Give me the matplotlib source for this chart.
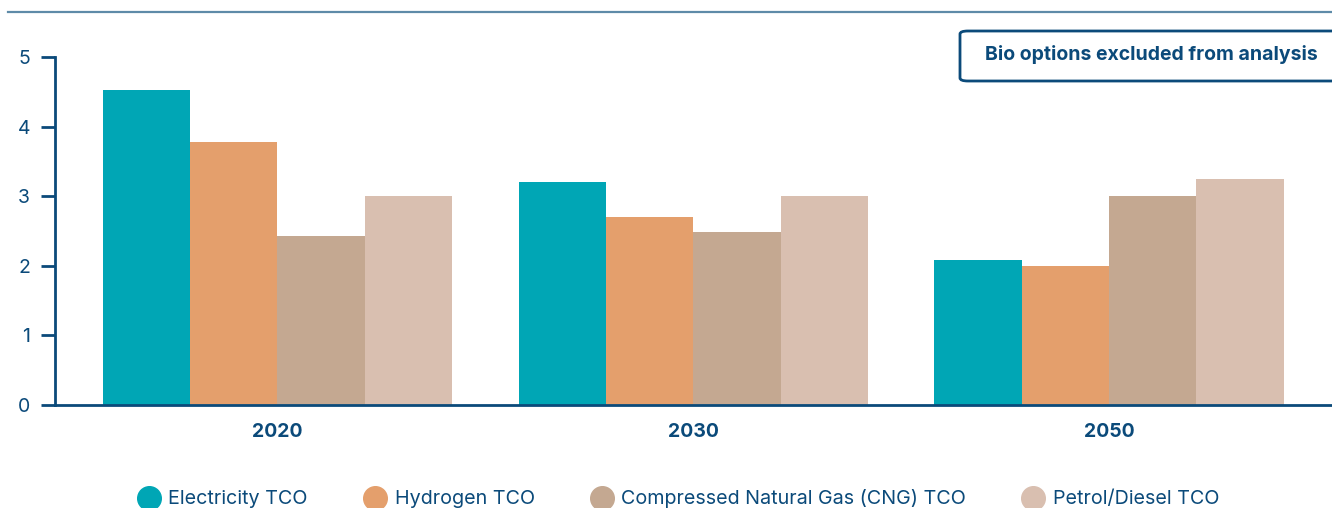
import matplotlib.pyplot as plt
import numpy as np
from matplotlib.patches import FancyBboxPatch
from matplotlib.lines import Line2D

plt.rcParams['font.family'] = ['Inter', 'DejaVu Sans']

# data
years = ['2020', '2030', '2050']
series = ['Electricity TCO', 'Hydrogen TCO', 'Compressed Natural Gas (CNG) TCO', 'Petrol/Diesel TCO']
electricity = [4.53, 3.21, 2.09]
hydrogen = [3.78, 2.70, 1.99]
cng = [2.43, 2.49, 3.00]
petrol = [3.01, 3.01, 3.25]
yticks = [0, 1, 2, 3, 4, 5]

colors = ['#00a6b5', '#e49f6c', '#c4a891', '#d9bfb0']
navy = '#0b4a7a'

fig = plt.figure(figsize=(13.32, 5.08), dpi=100)
ax = fig.add_axes([55/1332, 1-405/508, 1-55/1332, (405-57)/508])

x = np.arange(len(years))
w = 0.21
for i, vals in enumerate([electricity, hydrogen, cng, petrol]):
    ax.bar(x + (i - 1.5) * w, vals, w, color=colors[i], zorder=2)

ax.set_xlim(-0.535, 2.536)
ax.set_ylim(0, 5)
ax.set_yticks(yticks)
ax.set_xticks(x)
ax.set_xticklabels(years, fontweight='bold', fontsize=14, color=navy)
for lab in ax.get_yticklabels():
    lab.set_fontsize(14)
    lab.set_color(navy)
ax.tick_params(axis='x', length=0, pad=13)
ax.tick_params(axis='y', length=10, width=2, color=navy, pad=8)
for s in ['top', 'right']:
    ax.spines[s].set_visible(False)
for s in ['left', 'bottom']:
    ax.spines[s].set_color(navy)
    ax.spines[s].set_linewidth(2)

# top rule
fig.add_artist(Line2D([8/1332, 1], [1-12/508, 1-12/508], color='#5e8ba8', lw=1.6))

# note box
box = FancyBboxPatch((960/1332, 1-81/508), 400/1332, 50/508,
                     boxstyle='round,pad=0,rounding_size=0.006',
                     transform=fig.transFigure, fc='white', ec=navy, lw=2)
fig.add_artist(box)
fig.text(1151/1332, 1-55/508, 'Bio options excluded from analysis',
         ha='center', va='center', fontsize=14, fontweight='bold', color=navy)

handles = [Line2D([], [], marker='o', ls='', markersize=17, color=c) for c in colors]
leg = fig.legend(handles, series, loc='center', bbox_to_anchor=(0.509, 1-499/508),
                 ncol=4, frameon=False, fontsize=14.2, columnspacing=2.8,
                 handletextpad=0.4, handlelength=1.2)
for t in leg.get_texts():
    t.set_color(navy)

fig.savefig('out.png', dpi=100)
